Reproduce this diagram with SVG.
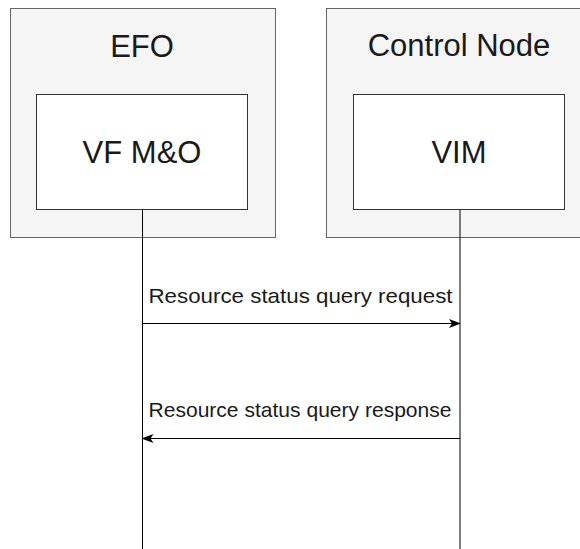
<svg xmlns="http://www.w3.org/2000/svg" width="580" height="549" viewBox="0 0 580 549">
  <style>
    .outer { fill: #f5f5f5; stroke: #666666; stroke-width: 1; }
    .inner { fill: #ffffff; stroke: #333333; stroke-width: 1; }
    .title { font-family: "Liberation Sans", Arial, sans-serif; font-size: 31px; fill: #1a1a1a; text-anchor: middle; }
    .label { font-family: "Liberation Sans", Arial, sans-serif; font-size: 21px; fill: #1a1a1a; }
    .life { stroke: #000000; stroke-width: 1; fill: none; }
    .msg { stroke: #000000; stroke-width: 1; fill: none; marker-end: url(#arrow); }
  </style>
  <defs>
    <marker id="arrow" viewBox="0 0 12 10" refX="11" refY="5" markerWidth="12" markerHeight="10" markerUnits="userSpaceOnUse" orient="auto">
      <path d="M0,0.5 L12,5 L0,9.5 L3,5 Z" fill="#000000"/>
    </marker>
  </defs>

  <rect width="580" height="549" fill="#ffffff"/>

  <g id="efo">
    <rect class="outer" x="10.5" y="8.5" width="265" height="229"/>
    <text class="title" x="142" y="56.5">EFO</text>
  </g>
  <g id="vfmo">
    <rect class="inner" x="36.5" y="94.5" width="211" height="115"/>
    <text class="title" x="142" y="163">VF M&amp;O</text>
  </g>

  <g id="control-node">
    <rect class="outer" x="326.5" y="8.5" width="270" height="229"/>
    <text class="title" x="459" y="55.5">Control Node</text>
  </g>
  <g id="vim">
    <rect class="inner" x="353.5" y="94.5" width="211" height="115"/>
    <text class="title" x="459" y="163">VIM</text>
  </g>

  <g id="connectors">
    <line class="life" x1="142.5" y1="209.5" x2="142.5" y2="549"/>
    <line class="life" x1="460" y1="209.5" x2="460" y2="549"/>
    <line class="msg" x1="142.5" y1="323.5" x2="460" y2="323.5"/>
    <text class="label" x="148.5" y="302.5" font-size="22" textLength="304" lengthAdjust="spacingAndGlyphs">Resource status query request</text>
    <line class="msg" x1="460" y1="438.5" x2="142.5" y2="438.5"/>
    <text class="label" x="148.5" y="416.5" textLength="303" lengthAdjust="spacingAndGlyphs">Resource status query response</text>
  </g>
</svg>
